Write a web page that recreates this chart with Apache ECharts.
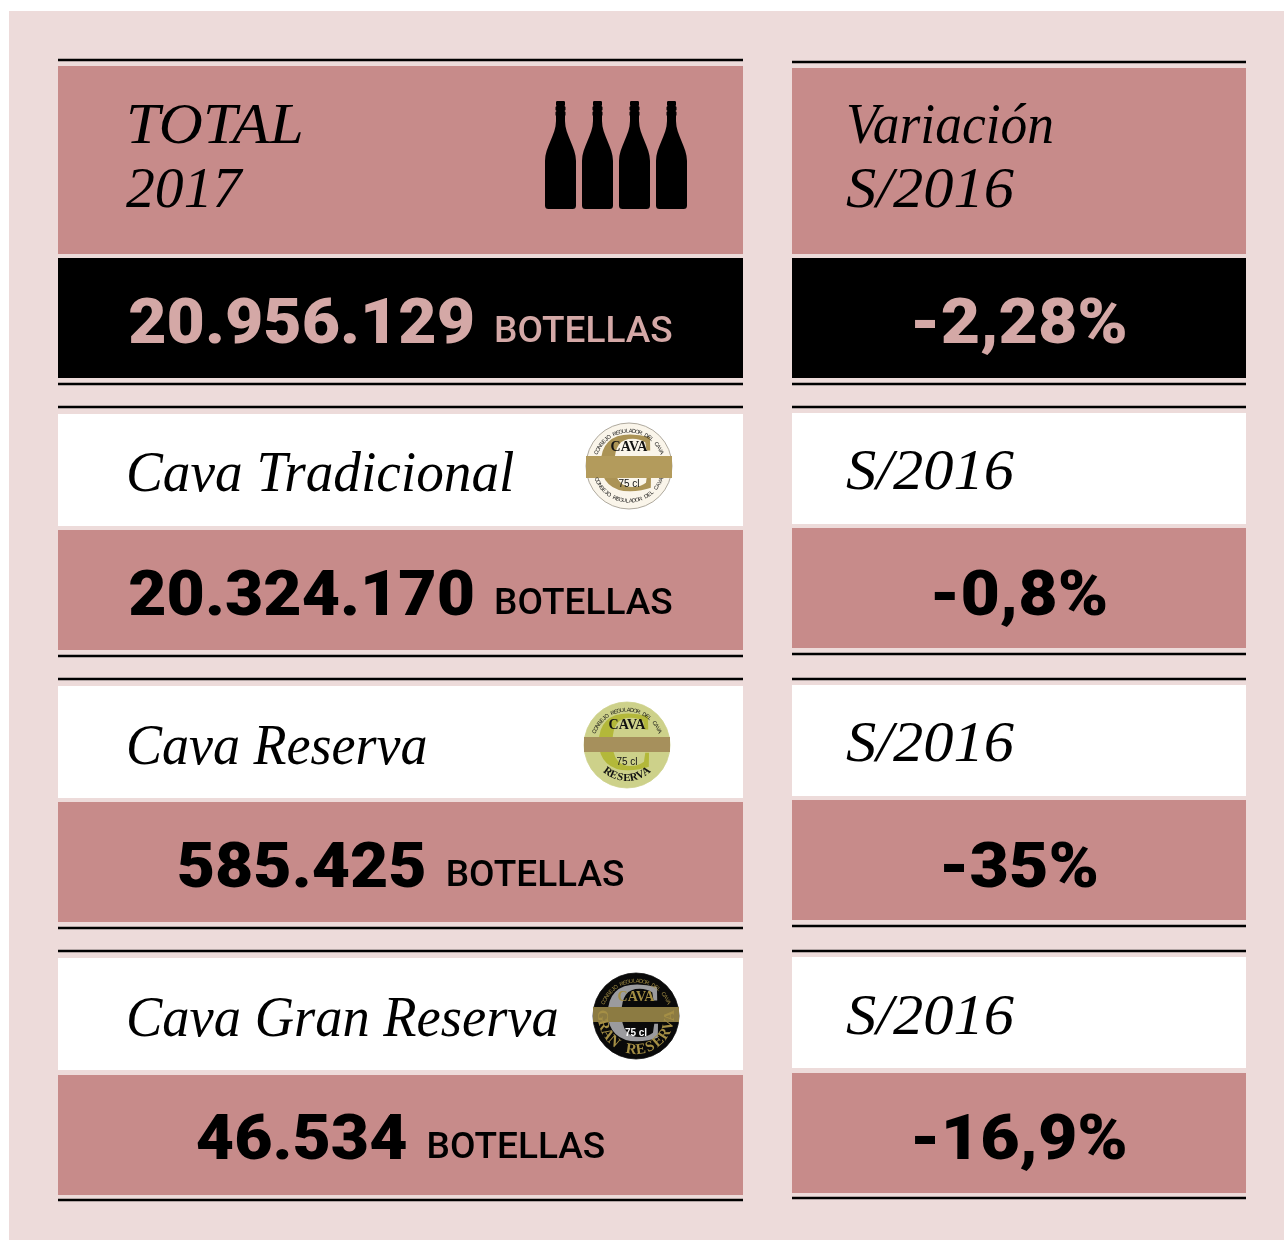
<!DOCTYPE html>
<html>
<head>
<meta charset="utf-8">
<style>
  html, body { margin: 0; padding: 0; background: #fff; }
  #main { width: 1284px; height: 1240px; }
</style>
<script src="https://cdn.jsdelivr.net/npm/echarts@6/dist/echarts.min.js"></script>
</head>
<body>
<div id="main"></div>
<script>
// datos de la tabla
const rowNames = ['TOTAL\n2017', 'Cava Tradicional', 'Cava Reserva', 'Cava Gran Reserva'];
const bottleCounts = [20956129, 20324170, 585425, 46534];
const variations = [-2.28, -0.8, -35, -16.9];
const unitLabel = 'BOTELLAS';
const variationHeads = ['Variación\nS/2016', 'S/2016', 'S/2016', 'S/2016'];

// colores
const PANEL = '#eddbda';
const ROSE = '#c78b8a';
const ROSE_TEXT = '#d4a8a6';
const INK = '#000';

// filas en pixeles de la pagina
const leftRows = [
  {rule1: 60, top: 66, mid: 254, mid2: 258, bottom: 378, rule2: 384},
  {rule1: 407, top: 414, mid: 526, mid2: 530, bottom: 650, rule2: 656},
  {rule1: 679, top: 686, mid: 798, mid2: 802, bottom: 922, rule2: 928},
  {rule1: 951, top: 958, mid: 1070, mid2: 1075, bottom: 1195, rule2: 1200}
];
const rightRows = [
  {rule1: 62, top: 68, mid: 254, mid2: 258, bottom: 378, rule2: 384},
  {rule1: 407, top: 413, mid: 524, mid2: 528, bottom: 648, rule2: 654},
  {rule1: 679, top: 685, mid: 796, mid2: 800, bottom: 920, rule2: 926},
  {rule1: 951, top: 957, mid: 1068, mid2: 1073, bottom: 1193, rule2: 1198}
];
const LEFT = [58, 743];
const RIGHT = [792, 1246];
const headY = [[128, 192], [476], [749], [1021]];
const varHeadY = [[128, 192], [474], [746], [1019]];
const valueY = [327, 599, 871, 1143];

// la cursiva de la referencia es mas ancha o estrecha segun la palabra
const headScale = {
  'TOTAL': 1.09, '2017': 1.03, 'Variación': 0.955, 'S/2016': 1.08,
  'Cava Tradicional': 0.987, 'Cava Reserva': 0.965, 'Cava Gran Reserva': 0.973
};

const bottlePath = 'M11 1Q11 0 12.5 0H18.5Q20 0 20 1V4L19.5 5L20.5 6V9L19.5 10L20.5 11V14L20 15V20C20 34 31 46 31 60V104.5Q31 108 27.5 108H3.5Q0 108 0 104.5V60C0 46 11 34 11 20V15L10.5 14V11L11.5 10L10.5 9V6L11.5 5L11 4Z';

const seals = [
  null,
  {cx: 629, cy: 466, bg: '#faf5ea', ring: '#9b9488', c: '#ab9355', band: '#b39b5c', bandTop: 456, bandBottom: 478,
    capY: 447, volY: 484, text: '#111', vol: '#111', bottom: 'CONSEJO REGULADOR DEL CAVA', bottomFont: '400 5.5px "Liberation Sans"', bottomStep: 5.4, bottomR: 35},
  {cx: 627, cy: 745, bg: '#cdd18a', ring: '#cdd18a', c: '#b3b83a', band: '#a6905c', bandTop: 737, bandBottom: 752,
    capY: 725, volY: 762, text: '#111', vol: '#111', bottom: 'RESERVA', bottomFont: '700 11px "Liberation Serif"', bottomStep: 12, bottomR: 33},
  {cx: 636, cy: 1016, bg: '#0a0a0a', ring: '#0a0a0a', c: '#9b9b9e', band: '#8c7b42', bandTop: 1007, bandBottom: 1022,
    capY: 997, volY: 1033, text: '#a58f45', vol: '#fff', bottom: 'GRAN RESERVA', bottomFont: '700 15px "Liberation Serif"', bottomStep: 16.5, bottomR: 34}
];
const SEAL_R = 43;

const serif = '"Liberation Serif"';

function fmtBottles(n) {
  return n.toLocaleString('de-DE');
}
function fmtVar(v) {
  return String(v).replace('.', ',') + '%';
}

const measureCtx = document.createElement('canvas').getContext('2d');
function textWidth(str, font) {
  measureCtx.font = font;
  return measureCtx.measureText(str).width;
}

function rect(c, x0, y0, x1, y1, fill) {
  const p0 = c(x0, y0), p1 = c(x1, y1);
  return {type: 'rect', shape: {x: p0[0], y: p0[1], width: p1[0] - p0[0], height: p1[1] - p0[1]}, style: {fill: fill}};
}

function label(x, y, str, opt) {
  return {
    type: 'text', x: x, y: y, scaleX: opt.scaleX || 1,
    style: {
      text: str, fill: opt.fill, font: opt.font,
      textAlign: opt.align || 'left', textVerticalAlign: 'middle'
    }
  };
}

function heading(c, x, ys, str, fill, size) {
  return str.split('\n').map((t, i) => {
    const p = c(x, ys[i]);
    return label(p[0], p[1], t, {fill: fill, font: 'italic 400 ' + size + 'px ' + serif, scaleX: headScale[t]});
  });
}

// letras sobre un arco, angulos en grados desde arriba en sentido horario
function arcText(cx, cy, r, str, centerDeg, stepDeg, font, fill, flip) {
  const out = [];
  const n = str.length;
  for (let i = 0; i < n; i++) {
    const off = (i - (n - 1) / 2) * stepDeg;
    const deg = flip ? centerDeg - off : centerDeg + off;
    const a = deg * Math.PI / 180;
    out.push({
      type: 'text',
      x: cx + r * Math.sin(a),
      y: cy - r * Math.cos(a),
      rotation: flip ? -(deg - 180) * Math.PI / 180 : -a,
      style: {text: str[i], font: font, fill: fill, textAlign: 'center', textVerticalAlign: 'middle'}
    });
  }
  return out;
}

function sealGroup(c, s) {
  const p = c(s.cx, s.cy);
  const cx = p[0], cy = p[1];
  const kids = [
    {type: 'circle', shape: {cx: cx, cy: cy, r: SEAL_R}, style: {fill: s.bg, stroke: s.ring, lineWidth: 0.8}},
    {type: 'text', x: cx - 2, y: cy + 3, style: {text: 'C', font: '700 84px ' + serif, fill: s.c, textAlign: 'center', textVerticalAlign: 'middle'}},
    rect(c, s.cx - SEAL_R, s.bandTop, s.cx + SEAL_R, s.bandBottom, s.band),
    {type: 'text', x: cx, y: c(s.cx, s.capY)[1], style: {text: 'CAVA', font: '700 14px ' + serif, fill: s.text, textAlign: 'center', textVerticalAlign: 'middle'}},
    {type: 'text', x: cx, y: c(s.cx, s.volY)[1], style: {text: '75 cl', font: (s.vol === '#fff' ? '700 ' : '400 ') + '10px "Liberation Sans"', fill: s.vol, textAlign: 'center', textVerticalAlign: 'middle'}}
  ];
  return kids
    .concat(arcText(cx, cy, 35, 'CONSEJO REGULADOR DEL CAVA', 0, 5.4, '400 5.5px "Liberation Sans"', s.text, false))
    .concat(arcText(cx, cy, s.bottomR, s.bottom, 180, s.bottomStep, s.bottomFont, s.text, true));
}

function renderRow(params, api) {
  const i = api.value(0);
  const c = (x, y) => api.coord([x, y]);
  const kids = [];
  const blackRow = i === 0;
  const topFill = blackRow ? ROSE : '#fff';
  const bottomFill = blackRow ? INK : ROSE;
  const valueFill = blackRow ? ROSE_TEXT : INK;

  [[LEFT, leftRows[i]], [RIGHT, rightRows[i]]].forEach(([col, r]) => {
    kids.push(rect(c, col[0], r.rule1 - 1.25, col[1], r.rule1 + 1.25, INK));
    kids.push(rect(c, col[0], r.top, col[1], r.mid, topFill));
    kids.push(rect(c, col[0], r.mid2, col[1], r.bottom, bottomFill));
    kids.push(rect(c, col[0], r.rule2 - 1.25, col[1], r.rule2 + 1.25, INK));
  });

  // encabezados
  heading(c, 126, headY[i], rowNames[i], INK, 56).forEach(k => kids.push(k));
  heading(c, 846, varHeadY[i], variationHeads[i], INK, 56).forEach(k => kids.push(k));

  // cifra + BOTELLAS centrado en la columna
  const numFont = '900 63px Roboto';
  const numScale = 1.05;
  const unitFont = '500 37px Roboto';
  const num = fmtBottles(api.value(1));
  const gap = 19;
  const numW = textWidth(num, numFont) * numScale;
  const unitW = textWidth(unitLabel, unitFont);
  const startX = (LEFT[0] + LEFT[1]) / 2 - (numW + gap + unitW) / 2;
  const vp = c(startX, valueY[i]);
  kids.push(label(vp[0], vp[1], num, {fill: valueFill, font: numFont, scaleX: numScale}));
  kids.push(label(vp[0] + numW + gap, vp[1] + 6, unitLabel, {fill: valueFill, font: unitFont}));

  const vr = c((RIGHT[0] + RIGHT[1]) / 2, valueY[i]);
  kids.push(label(vr[0], vr[1], fmtVar(api.value(2)), {fill: valueFill, font: numFont, align: 'center', scaleX: 1.08}));

  // botellas de la fila total, sellos en las demas
  if (blackRow) {
    for (let b = 0; b < 4; b++) {
      const bp = c(545 + b * 37, 101);
      kids.push({
        type: 'path',
        shape: {pathData: bottlePath, x: bp[0], y: bp[1], width: 31, height: 108, layout: 'cover'},
        style: {fill: INK}
      });
    }
  } else {
    sealGroup(c, seals[i]).forEach(k => kids.push(k));
  }
  return {type: 'group', children: kids};
}

const chart = echarts.init(document.getElementById('main'), null, {renderer: 'canvas'});
chart.setOption({
  animation: false,
  backgroundColor: '#fff',
  grid: {show: true, left: 9, top: 11, right: 0, bottom: 0, backgroundColor: PANEL, borderWidth: 0},
  xAxis: {type: 'value', min: 9, max: 1284, show: false},
  yAxis: {type: 'value', min: 11, max: 1240, inverse: true, show: false},
  series: [{
    type: 'custom',
    coordinateSystem: 'cartesian2d',
    renderItem: renderRow,
    clip: false,
    silent: true,
    encode: {x: 1, y: 2},
    data: rowNames.map((n, i) => [i, bottleCounts[i], variations[i]])
  }]
});
</script>
</body>
</html>
